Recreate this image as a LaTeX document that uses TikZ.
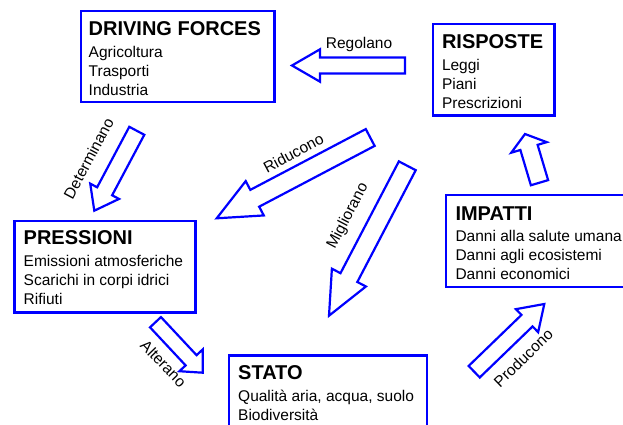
\documentclass[tikz,border=0pt]{standalone}
\usepackage{fontspec}
\setmainfont{Liberation Sans}
\usetikzlibrary{calc}
\definecolor{dblue}{RGB}{0,0,255}
% block arrow: #1 tail, #2 tip, #3 half shaft width, #4 half head width, #5 head length
\newcommand{\blockarr}[5]{%
  \coordinate (#2c) at ($(#2)!#5!(#1)$);
  \draw[barrow] ($(#1)!#3!90:(#2)$) -- ($(#2c)!#3!90:(#2)$) -- ($(#2c)!#4!90:(#2)$)
    -- (#2) -- ($(#2c)!#4!-90:(#2)$) -- ($(#2c)!#3!-90:(#2)$) -- ($(#1)!#3!-90:(#2)$) -- cycle;}
\newcommand{\boxtitle}[1]{{\fontsize{20}{19}\selectfont\bfseries #1}\\[2.5pt]}
\begin{document}
\begin{tikzpicture}[x=1pt,y=-1pt,
  box/.style={draw=dblue,line width=2.4pt,inner sep=0pt},
  barrow/.style={draw=dblue,fill=white,line width=2.2pt,line join=miter},
  txt/.style={font=\fontsize{15.5}{19}\selectfont,align=left,inner sep=0pt,anchor=north west},
  lbl/.style={font=\fontsize{15.5}{19}\selectfont,inner sep=0pt,anchor=base}]
\useasboundingbox (0,0) rectangle (623,425);
\clip (0,0) rectangle (623,425);

% boxes
\node[box,minimum width=193.8pt,minimum height=91pt] (df) at (177.6,56.7) {};
\node[box,minimum width=121.3pt,minimum height=91.3pt] (ri) at (493.9,69.9) {};
\node[box,minimum width=181pt,minimum height=91.7pt] (pr) at (105,266.7) {};
\node[box,minimum width=197.6pt,minimum height=92pt] (st) at (328,401.5) {};
\node[box,minimum width=194.2pt,minimum height=92.4pt] (im) at (542.9,241) {};

% texts
\node[txt] (tdf) at (88.5,21.5) {\boxtitle{DRIVING FORCES}Agricoltura\\Trasporti\\Industria};
\node[txt] (tri) at (441.8,34.4) {\boxtitle{RISPOSTE}Leggi\\Piani\\Prescrizioni};
\node[txt] (tpr) at (23.5,230.8) {\boxtitle{PRESSIONI}Emissioni atmosferiche\\Scarichi in corpi idrici\\Rifiuti};
\node[txt] (tim) at (455.3,206.4) {\boxtitle{IMPATTI}Danni alla salute umana\\Danni agli ecosistemi\\Danni economici};
\node[txt] (tst) at (238,365.7) {\boxtitle{STATO}Qualità aria, acqua, suolo\\Biodiversità};

% arrow end points
\coordinate (regA) at (405,65.5);   \coordinate (regB) at (292,65.5);
\coordinate (detA) at (136.8,130.8); \coordinate (detB) at (94.3,210.7);
\coordinate (ridA) at (370.2,137.5); \coordinate (ridB) at (216.7,218.3);
\coordinate (migA) at (407.3,165.8); \coordinate (migB) at (329,315.7);
\coordinate (altA) at (155.5,322.2); \coordinate (altB) at (202.7,372.7);
\coordinate (proA) at (474.2,371.7); \coordinate (proB) at (544.3,304);
\coordinate (upA) at (539.5,182.7);  \coordinate (upB) at (525,134);

\blockarr{regA}{regB}{8pt}{16.2pt}{28pt}
\blockarr{detA}{detB}{8.5pt}{16.3pt}{22pt}
\blockarr{ridA}{ridB}{9.5pt}{19.4pt}{43pt}
\blockarr{migA}{migB}{9.5pt}{19.2pt}{43pt}
\blockarr{altA}{altB}{7.5pt}{16pt}{17pt}
\blockarr{proA}{proB}{8pt}{16pt}{24pt}
\blockarr{upA}{upB}{9pt}{18.5pt}{14pt}

% labels
\node[lbl] (lreg) at (359,48.3) {Regolano};
\node[lbl,rotate=62] (ldet) at (93.5,161) {Determinano};
\node[lbl,rotate=28] (lrid) at (296,158) {Riducono};
\node[lbl,rotate=62.4] (lmig) at (351.5,218) {Migliorano};
\node[lbl,rotate=-46] (lalt) at (159.5,367.5) {Alterano};
\node[lbl,rotate=44] (lpro) at (527,362) {Producono};
\end{tikzpicture}
\end{document}
